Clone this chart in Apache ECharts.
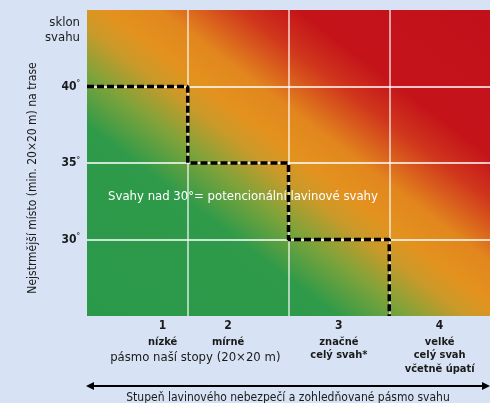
<!DOCTYPE html>
<html><head><meta charset="utf-8">
<script src="https://cdn.jsdelivr.net/npm/echarts@6/dist/echarts.min.js"></script>
<style>html,body{margin:0;padding:0;background:#d7e3f4}#c{width:490px;height:403px}</style>
</head><body><div id="c"></div>
<script>
// ---- data ----
const dangerLevels = ['1', '2', '3', '4'];
const dangerNames = ['nízké', 'mírné', 'značné', 'velké'];
const zoneNotes = [[], [], ['celý svah*'], ['celý svah', 'včetně úpatí']];
const sharedZone = 'pásmo naší stopy (20×20 m)';
const slopeTicks = [30, 35, 40];
const stepX = [0, 1, 1, 2, 2, 3, 3];
const stepY = [40, 40, 35, 35, 30, 30, 25];
const centerNote = 'Svahy nad 30°= potencionální lavinové svahy';
const yTitle = 'Nejstrmější místo (min. 20×20 m) na trase';
const xTitle = 'Stupeň lavinového nebezpečí a zohledňované pásmo svahu';
const yUnitTitle = ['sklon', 'svahu'];

const F = '"Liberation Sans Narrow","DejaVu Sans Condensed",sans-serif';
const chart = echarts.init(document.getElementById('c'));
const stepData = stepX.map((x, i) => [x, stepY[i]]);
const W = 'rgba(255,255,255,0.8)';

chart.setOption({
  backgroundColor: '#d7e3f4',
  animation: false,
  grid: {
    left: 87, right: 0, top: 10, bottom: 87, show: true, borderWidth: 0,
    backgroundColor: {
      type: 'linear', x: 0.134, y: 1.135, x2: 0.866, y2: -0.135,
      colorStops: [
        { offset: 0, color: '#2a994a' },
        { offset: 0.31, color: '#2e9a4a' },
        { offset: 0.40, color: '#7fa33a' },
        { offset: 0.47, color: '#c99a2a' },
        { offset: 0.52, color: '#e3921e' },
        { offset: 0.59, color: '#e2861e' },
        { offset: 0.69, color: '#d0361c' },
        { offset: 0.76, color: '#c4141a' },
        { offset: 1, color: '#c2101a' }
      ]
    }
  },
  xAxis: {
    type: 'value', min: 0, max: 4, interval: 1,
    axisLine: { show: false }, axisTick: { show: false }, axisLabel: { show: false },
    splitLine: { show: true, lineStyle: { color: ['transparent', W, W, W, 'transparent'], width: 1.5 } }
  },
  yAxis: {
    type: 'value', min: 25, max: 45, interval: 5,
    axisLine: { show: false }, axisTick: { show: false },
    axisLabel: {
      margin: 7,
      formatter: v => slopeTicks.includes(v) ? '{a|' + v + '}{b|°}' : '',
      rich: {
        a: { fontFamily: F, fontWeight: 'bold', fontSize: 12, color: '#1a1a1a' },
        b: { fontFamily: F, fontWeight: 'bold', fontSize: 8, color: '#1a1a1a', padding: [0, 0, 5, 0] }
      }
    },
    splitLine: { show: true, lineStyle: { color: ['transparent', '#fff', '#fff', '#fff', 'transparent'], width: 1.5 } }
  },
  series: [{
    type: 'line', data: stepData, symbol: 'none', clip: true,
    lineStyle: { color: '#000', width: 3.5, type: [7, 3] }
  }]
});

const px = x => chart.convertToPixel({ gridIndex: 0 }, [x, 25])[0];
const g = [];
const txt = (text, x, y, opt = {}) => g.push({
  type: 'text', silent: true,
  style: Object.assign({ text, x, y, fill: '#1a1a1a', font: '12px ' + F, align: 'center', verticalAlign: 'middle' }, opt)
});

// y unit title
txt(yUnitTitle[0], 80, 23, { align: 'right', font: '13px ' + F });
txt(yUnitTitle[1], 80, 38, { align: 'right', font: '13px ' + F });
// rotated y title
g.push({
  type: 'text', silent: true, x: 33, y: 178, rotation: Math.PI / 2,
  style: { text: yTitle, x: 0, y: 0, fill: '#1a1a1a', font: '12px ' + F, align: 'center', verticalAlign: 'middle' }
});

// category labels
const labelCenters = [0.75, 1.4, 2.5, 3.5];
dangerLevels.forEach((lv, i) => {
  const x = px(labelCenters[i]);
  txt(lv, x, 326, { font: 'bold 12px ' + F });
  txt(dangerNames[i], x, 342, { font: 'bold 11px ' + F });
  zoneNotes[i].forEach((n, j) => txt(n, x, 355 + j * 14, { font: 'bold 11px ' + F }));
});
txt(sharedZone, (px(0.75) + px(1.4)) / 2, 358, { font: '13px ' + F });

// center note
txt(centerNote, 243, 197, { fill: '#fff', font: '13px ' + F });

// arrow
g.push({ type: 'line', silent: true, shape: { x1: 92, y1: 386, x2: 484, y2: 386 }, style: { stroke: '#000', lineWidth: 2 } });
g.push({ type: 'polygon', silent: true, shape: { points: [[86, 386], [94, 382], [94, 390]] }, style: { fill: '#000' } });
g.push({ type: 'polygon', silent: true, shape: { points: [[490, 386], [482, 382], [482, 390]] }, style: { fill: '#000' } });
txt(xTitle, 288, 398, { font: '12px ' + F });

chart.setOption({ graphic: g });
</script></body></html>
